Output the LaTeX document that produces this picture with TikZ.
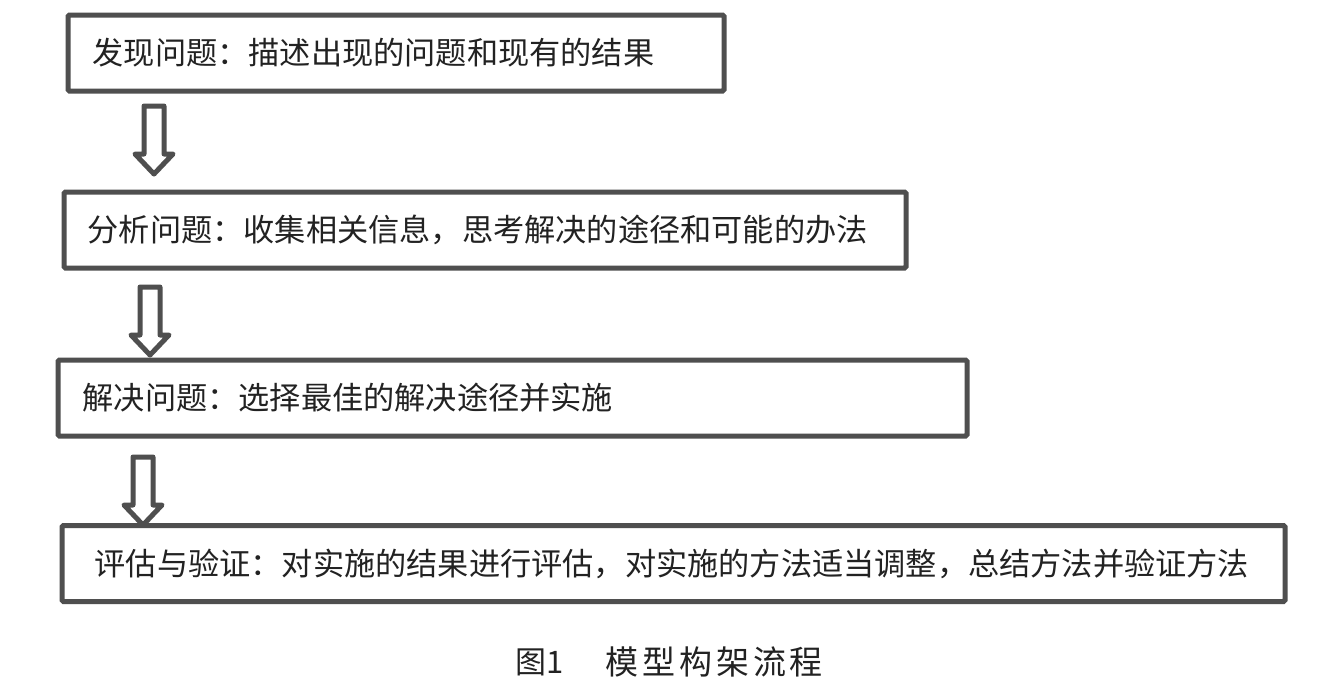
\documentclass[tikz,border=0pt]{standalone}
\usepackage{fontspec}
\newfontfamily\cjk{Noto Sans CJK SC}
\newfontfamily\cjkcap[LetterSpace=12]{Noto Sans CJK SC}
\definecolor{boxgray}{HTML}{4F4F4F}
\definecolor{txt}{HTML}{222222}
\begin{document}
\begin{tikzpicture}[x=1pt,y=-1pt,
  box/.style={draw=boxgray, line width=5pt, rounded corners=1.5pt, minimum height=76pt},
  lbl/.style={anchor=west, inner sep=0pt, text=txt, font=\cjk\fontsize{31.2}{36}\selectfont},
  darrow/.style={draw=boxgray, line width=5pt, line join=round, fill=white}]
\useasboundingbox[fill=white] (0,0) rectangle (1320,697);
% boxes
\node[box, minimum width=656pt] (b1) at (396,53) {};
\node[box, minimum width=842pt] (b2) at (485,230) {};
\node[box, minimum width=909pt] (b3) at (512.5,398) {};
\node[box, minimum width=1223pt] (b4) at (673.5,563.5) {};
% texts
\node[lbl] (t1) at ([xshift=27pt]b1.west) {发现问题：描述出现的问题和现有的结果};
\node[lbl] (t2) at ([xshift=26pt]b2.west) {分析问题：收集相关信息，思考解决的途径和可能的办法};
\node[lbl] (t3) at ([xshift=27pt]b3.west) {解决问题：选择最佳的解决途径并实施};
\node[lbl] (t4) at ([xshift=35pt]b4.west) {评估与验证：对实施的结果进行评估，对实施的方法适当调整，总结方法并验证方法};
% arrows (hollow block arrows)
\coordinate (a1) at (154,106);
\coordinate (a2) at (150,287);
\coordinate (a3) at (143,457);
\foreach \c in {a1,a2,a3}{
  \draw[darrow] ([shift={(-10,0)}]\c) -- ([shift={(10,0)}]\c) -- ([shift={(10,48)}]\c)
    -- ([shift={(19,48)}]\c) -- ([shift={(0,68)}]\c) -- ([shift={(-19,48)}]\c)
    -- ([shift={(-10,48)}]\c) -- cycle;
}
% caption
\node[anchor=west, inner sep=0pt, text=txt, font=\cjk\fontsize{31}{36}\selectfont] (c1) at (515,662) {图1};
\node[anchor=west, inner sep=0pt, text=txt, font=\cjkcap\fontsize{33}{38}\selectfont] (c2) at (605,662) {模型构架流程};
\end{tikzpicture}
\end{document}
